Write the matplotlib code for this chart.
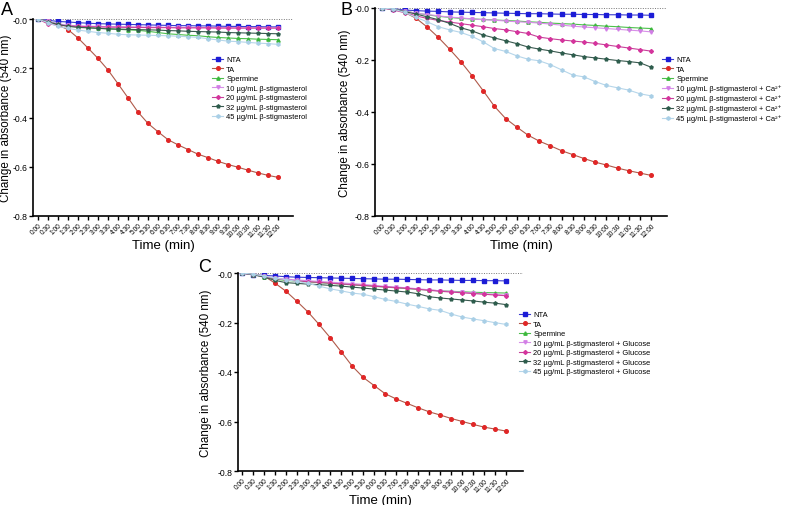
import matplotlib
matplotlib.use("Agg")
import matplotlib.pyplot as plt

plt.rcParams['font.family'] = ['Liberation Sans', 'DejaVu Sans']

# time points 0:00 .. 12:00 every 30 s
times = ['0:00', '0:30', '1:00', '1:30', '2:00', '2:30', '3:00', '3:30', '4:00',
         '4:30', '5:00', '5:30', '6:00', '6:30', '7:00', '7:30', '8:00', '8:30',
         '9:00', '9:30', '10:00', '10:30', '11:00', '11:30', '12:00']

# Panel A
a_nta = [0, -0.005, -0.01, -0.012, -0.015, -0.017, -0.019, -0.02, -0.021, -0.022, -0.023, -0.024,
         -0.025, -0.026, -0.027, -0.027, -0.028, -0.028, -0.029, -0.03, -0.03, -0.031, -0.031, -0.032, -0.032]
a_ta = [0, -0.01, -0.025, -0.043, -0.077, -0.118, -0.16, -0.207, -0.263, -0.32, -0.378, -0.424,
        -0.458, -0.49, -0.511, -0.53, -0.549, -0.563, -0.578, -0.591, -0.602, -0.614, -0.625, -0.635, -0.643]
a_sperm = [0, -0.01, -0.02, -0.028, -0.032, -0.035, -0.037, -0.04, -0.042, -0.044, -0.046, -0.05,
           -0.055, -0.06, -0.063, -0.066, -0.068, -0.072, -0.075, -0.077, -0.079, -0.08, -0.082, -0.083, -0.084]
a_10 = [0, -0.01, -0.02, -0.025, -0.028, -0.029, -0.03, -0.031, -0.032, -0.032, -0.033, -0.033,
        -0.033, -0.034, -0.034, -0.034, -0.035, -0.035, -0.035, -0.035, -0.036, -0.036, -0.036, -0.036, -0.036]
a_20 = [0, -0.02, -0.025, -0.028, -0.03, -0.031, -0.032, -0.033, -0.033, -0.034, -0.034, -0.035,
        -0.035, -0.035, -0.036, -0.036, -0.036, -0.036, -0.037, -0.037, -0.037, -0.037, -0.037, -0.037, -0.037]
a_32 = [0, -0.012, -0.022, -0.03, -0.034, -0.036, -0.038, -0.04, -0.041, -0.042, -0.043, -0.044,
        -0.045, -0.047, -0.048, -0.05, -0.051, -0.052, -0.053, -0.055, -0.056, -0.057, -0.058, -0.059, -0.06]
a_45 = [0, -0.015, -0.03, -0.038, -0.045, -0.05, -0.055, -0.058, -0.062, -0.064, -0.065, -0.066,
        -0.067, -0.068, -0.07, -0.072, -0.075, -0.08, -0.085, -0.09, -0.092, -0.095, -0.098, -0.1, -0.103]

# Panel B (+ Ca2+)
b_nta = [0, -0.003, -0.008, -0.01, -0.012, -0.013, -0.015, -0.016, -0.017, -0.018, -0.019, -0.02,
         -0.021, -0.022, -0.022, -0.023, -0.024, -0.024, -0.025, -0.025, -0.026, -0.026, -0.027, -0.027, -0.028]
b_ta = [0, -0.004, -0.017, -0.039, -0.073, -0.113, -0.158, -0.206, -0.26, -0.318, -0.378, -0.425,
        -0.458, -0.489, -0.512, -0.53, -0.549, -0.564, -0.579, -0.593, -0.604, -0.616, -0.626, -0.635, -0.644]
b_sperm = [0, -0.005, -0.012, -0.02, -0.026, -0.032, -0.036, -0.04, -0.042, -0.044, -0.046, -0.048,
           -0.05, -0.053, -0.055, -0.058, -0.06, -0.062, -0.065, -0.067, -0.07, -0.072, -0.075, -0.077, -0.079]
b_10 = [0, -0.005, -0.012, -0.02, -0.025, -0.03, -0.035, -0.038, -0.042, -0.045, -0.047, -0.05,
        -0.053, -0.055, -0.058, -0.062, -0.066, -0.07, -0.073, -0.076, -0.079, -0.082, -0.085, -0.088, -0.092]
b_20 = [0, -0.008, -0.018, -0.03, -0.04, -0.048, -0.054, -0.06, -0.066, -0.072, -0.079, -0.084,
        -0.091, -0.098, -0.112, -0.118, -0.123, -0.127, -0.131, -0.136, -0.142, -0.148, -0.154, -0.16, -0.166]
b_32 = [0, -0.004, -0.014, -0.023, -0.034, -0.045, -0.059, -0.076, -0.088, -0.104, -0.115, -0.126,
        -0.137, -0.15, -0.158, -0.165, -0.173, -0.18, -0.187, -0.192, -0.197, -0.202, -0.206, -0.211, -0.228]
b_45 = [0, -0.004, -0.017, -0.036, -0.053, -0.072, -0.084, -0.094, -0.109, -0.13, -0.156, -0.167,
        -0.184, -0.197, -0.203, -0.218, -0.238, -0.258, -0.265, -0.283, -0.298, -0.307, -0.316, -0.33, -0.338]

# Panel C (+ Glucose)
c_nta = [0, -0.007, -0.01, -0.012, -0.015, -0.017, -0.018, -0.019, -0.02, -0.021, -0.022, -0.023,
         -0.024, -0.025, -0.025, -0.026, -0.027, -0.028, -0.028, -0.029, -0.03, -0.03, -0.031, -0.031, -0.032]
c_ta = [0, -0.005, -0.012, -0.041, -0.074, -0.115, -0.158, -0.208, -0.261, -0.318, -0.376, -0.422,
        -0.455, -0.488, -0.509, -0.527, -0.545, -0.561, -0.574, -0.588, -0.6, -0.612, -0.623, -0.631, -0.639]
c_sperm = [0, -0.007, -0.015, -0.025, -0.03, -0.033, -0.036, -0.039, -0.042, -0.045, -0.048, -0.051,
           -0.054, -0.057, -0.06, -0.063, -0.066, -0.069, -0.072, -0.074, -0.076, -0.078, -0.079, -0.08, -0.081]
c_10 = [0, -0.007, -0.014, -0.02, -0.025, -0.028, -0.031, -0.034, -0.037, -0.04, -0.043, -0.046,
        -0.05, -0.054, -0.057, -0.06, -0.064, -0.068, -0.072, -0.075, -0.078, -0.081, -0.084, -0.087, -0.09]
c_20 = [0, -0.007, -0.014, -0.022, -0.028, -0.032, -0.035, -0.038, -0.041, -0.044, -0.047, -0.05,
        -0.053, -0.056, -0.059, -0.062, -0.066, -0.07, -0.074, -0.077, -0.08, -0.083, -0.086, -0.089, -0.092]
c_32 = [0, -0.007, -0.016, -0.03, -0.039, -0.042, -0.045, -0.047, -0.05, -0.053, -0.057, -0.061,
        -0.065, -0.069, -0.073, -0.077, -0.084, -0.096, -0.101, -0.105, -0.109, -0.113, -0.118, -0.122, -0.128]
c_45 = [0, -0.005, -0.012, -0.02, -0.027, -0.034, -0.042, -0.053, -0.064, -0.072, -0.081, -0.086,
        -0.096, -0.107, -0.115, -0.126, -0.135, -0.145, -0.151, -0.166, -0.178, -0.186, -0.193, -0.201, -0.208]

colors = ['#1c1cd6', '#e02626', '#3cb83c', '#d27ee6', '#d4349c', '#2d5c4c', '#a9cfe6']
line_colors = ['#3a3ad0', '#b05a4a', '#4cbf4c', '#d88ee8', '#c8409a', '#3a5a50', '#b6d6ea']
markers = ['s', 'o', '^', 'v', 'D', 'p', 'h']
msizes = [2.2, 2.6, 2.4, 2.4, 2.0, 2.4, 2.4]

base_labels = ['NTA', 'TA', 'Spermine',
               '10 µg/mL β-stigmasterol',
               '20 µg/mL β-stigmasterol',
               '32 µg/mL β-stigmasterol',
               '45 µg/mL β-stigmasterol']


def draw_panel(fig, rect, series, suffix, xlim, letter, letter_xy, leg_xy, ylab_x):
    ax = fig.add_axes(rect)
    x = list(range(len(times)))
    labels = base_labels[:3] + [lab + suffix for lab in base_labels[3:]]
    order = [6, 5, 4, 3, 2, 0, 1]
    handles = {}
    for i in order:
        h, = ax.plot(x, series[i], color=line_colors[i], lw=0.8, marker=markers[i],
                     markersize=msizes[i], markerfacecolor=colors[i],
                     markeredgecolor=colors[i], zorder=3 + i * 0.1)
        handles[i] = h
    ax.axhline(0, color='#777777', ls=(0, (1, 1.5)), lw=0.7, zorder=1)
    ax.set_xlim(*xlim)
    ax.set_ylim(-0.8, 0)
    ax.set_yticks([0, -0.2, -0.4, -0.6, -0.8])
    ax.set_yticklabels(['-0.0', '-0.2', '-0.4', '-0.6', '-0.8'], fontsize=6.2)
    ax.set_xticks(x)
    ax.set_xticklabels(times, rotation=45, ha='right', rotation_mode='anchor', fontsize=4.8)
    for s in ['top', 'right']:
        ax.spines[s].set_visible(False)
    for s in ['left', 'bottom']:
        ax.spines[s].set_linewidth(1.2)
    ax.tick_params(axis='both', direction='out', length=3, width=1, pad=1.2)
    ax.set_ylabel('Change in absorbance (540 nm)', fontsize=8.4)
    ax.yaxis.set_label_coords(ylab_x, 0.5)
    ax.set_xlabel('Time (min)', fontsize=9.5, labelpad=0.5)
    fig.text(letter_xy[0], letter_xy[1], letter, fontsize=13, va='top', ha='left')
    fig.legend([handles[i] for i in range(7)], labels, loc='upper left',
               bbox_to_anchor=leg_xy, bbox_transform=fig.transFigure,
               frameon=False, fontsize=5.4, handlelength=1.5, handletextpad=0.4,
               labelspacing=0.3, borderpad=0, borderaxespad=0)
    return ax


W, H = 787, 506
fig = plt.figure(figsize=(W / 100, H / 100), dpi=100)

draw_panel(fig, [33 / W, 1 - 217 / H, 260 / W, 197 / H],
           [a_nta, a_ta, a_sperm, a_10, a_20, a_32, a_45], '',
           (-0.5, 25.5), 'A', (1 / W, 1 - 2 / H), (212 / W, 1 - 57 / H), -0.08)
draw_panel(fig, [375 / W, 1 - 217 / H, 292 / W, 208 / H],
           [b_nta, b_ta, b_sperm, b_10, b_20, b_32, b_45], ' + Ca²⁺',
           (-0.65, 25.4), 'B', (340 / W, 1 - 2 / H), (662 / W, 1 - 57 / H), -0.081)
draw_panel(fig, [238 / W, 1 - 472 / H, 285 / W, 198 / H],
           [c_nta, c_ta, c_sperm, c_10, c_20, c_32, c_45], ' + Glucose',
           (-0.36, 25.5), 'C', (198 / W, 1 - 259 / H), (519 / W, 1 - 312 / H), -0.09)

fig.savefig('out.png', dpi=100)
